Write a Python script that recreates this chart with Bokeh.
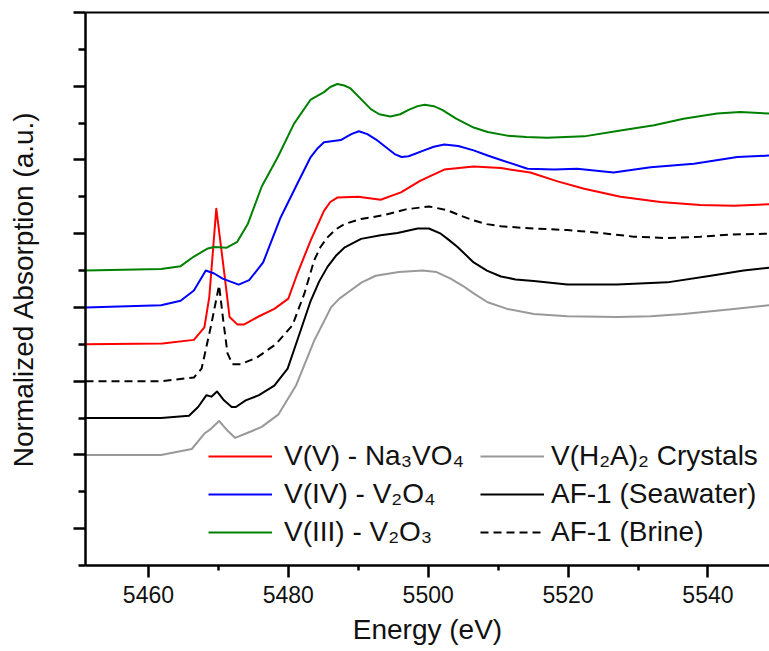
from bokeh.plotting import figure
from bokeh.models import (Range1d, FixedTicker, LinearAxis, Legend, LegendItem,
                          CustomJSTickFormatter)
from bokeh.embed import file_html
from bokeh.resources import INLINE

# ---- data (energy in eV, offset normalized absorption) ----
na3vo4_e = [5451, 5462, 5466.5, 5468, 5468.7, 5469.7, 5470.8, 5471.6, 5472.7, 5473.7, 5475.6,
            5478, 5480, 5481.3, 5483.2, 5485.1, 5486, 5487, 5490, 5493.2, 5496.1, 5498.9, 5502.3,
            5506.5, 5510.4, 5514.6, 5518.5, 5522.3, 5527.5, 5533.2, 5538.9, 5543.7, 5548.8]
na3vo4_y = [3.50, 3.51, 3.56, 3.73, 4.14, 5.34, 4.50, 3.87, 3.77, 3.77, 3.87,
            3.98, 4.12, 4.46, 4.91, 5.31, 5.43, 5.49, 5.50, 5.46, 5.56, 5.72, 5.87,
            5.91, 5.89, 5.83, 5.71, 5.61, 5.50, 5.43, 5.39, 5.38, 5.40]

v2o4_e = [5451, 5461.8, 5464.6, 5466.5, 5468.2, 5469.4, 5470.6, 5472.9, 5474.4, 5476.4, 5478.9,
          5481.3, 5483.2, 5484.2, 5485.1, 5487.5, 5489, 5490.1, 5491.3, 5492.5, 5495.2, 5496.2,
          5497.2, 5499.4, 5500.8, 5502.3, 5504.3, 5506.5, 5508.5, 5510.4, 5514.2, 5518, 5521.3,
          5526.5, 5531.8, 5538, 5544.2, 5548.8]
v2o4_y = [4.00, 4.03, 4.09, 4.23, 4.50, 4.46, 4.39, 4.31, 4.37, 4.61, 5.22,
          5.68, 6.04, 6.16, 6.24, 6.27, 6.35, 6.39, 6.35, 6.28, 6.08, 6.04,
          6.05, 6.13, 6.18, 6.21, 6.19, 6.13, 6.06, 6.00, 5.88, 5.87, 5.88,
          5.83, 5.90, 5.95, 6.04, 6.06]

v2o3_e = [5451, 5461.8, 5464.6, 5466.5, 5468.5, 5469.4, 5471.2, 5472.7, 5474.2, 5476.2, 5478.5,
          5480.8, 5483.2, 5485.1, 5486, 5487, 5488, 5488.9, 5491.8, 5493, 5494.6, 5496, 5497.2,
          5498.5, 5499.5, 5500.8, 5502, 5504, 5506.5, 5508.5, 5511.3, 5514, 5517, 5522.3, 5527.5,
          5532.3, 5536.5, 5541.3, 5544.6, 5548.8]
v2o3_y = [4.50, 4.52, 4.56, 4.69, 4.80, 4.82, 4.81, 4.89, 5.13, 5.64, 6.04,
          6.49, 6.82, 6.92, 6.99, 7.03, 7.01, 6.97, 6.69, 6.62, 6.59, 6.62, 6.68,
          6.73, 6.75, 6.73, 6.68, 6.56, 6.44, 6.38, 6.33, 6.31, 6.30, 6.32, 6.40,
          6.47, 6.56, 6.63, 6.65, 6.63]

brine_e = [5451, 5461.8, 5466.5, 5467.6, 5468.9, 5470.1, 5470.7, 5471.3, 5472, 5473.2, 5475.5,
           5478.2, 5480.6, 5482.3, 5483.7, 5484.6, 5485.6, 5486.8, 5488, 5490.4, 5493.6, 5496.8,
           5500.1, 5502.7, 5504.5, 5506.5, 5508.4, 5510.4, 5515.1, 5519.9, 5524.6, 5529.4,
           5534.2, 5538.9, 5543.6, 5548.8]
brine_y = [3.00, 3.00, 3.05, 3.17, 3.73, 4.30, 3.82, 3.38, 3.23, 3.23, 3.32,
           3.50, 3.76, 4.19, 4.64, 4.82, 4.95, 5.06, 5.13, 5.20, 5.25, 5.33,
           5.37, 5.32, 5.25, 5.18, 5.13, 5.10, 5.07, 5.05, 5.01, 4.96,
           4.94, 4.96, 4.99, 5.00]

seawater_e = [5451, 5461.8, 5465.8, 5467.1, 5468.3, 5469, 5469.8, 5470.8, 5471.9, 5472.5, 5473.9,
              5475.8, 5478, 5479.9, 5480.8, 5483.2, 5484.4, 5485.6, 5486.8, 5488, 5490.4, 5493.2,
              5495.6, 5498.5, 5500.1, 5501.8, 5502.9, 5504.2, 5506.5, 5508.4, 5510.4, 5512.5,
              5515.1, 5519.9, 5527, 5534.2, 5540.4, 5545.1, 5548.8]
seawater_y = [2.50, 2.50, 2.53, 2.65, 2.81, 2.79, 2.86, 2.74, 2.65, 2.65, 2.74,
              2.81, 2.94, 3.17, 3.42, 4.09, 4.35, 4.55, 4.70, 4.81, 4.93, 4.98,
              5.01, 5.07, 5.07, 5.00, 4.92, 4.82, 4.61, 4.50, 4.42, 4.38,
              4.36, 4.31, 4.31, 4.34, 4.43, 4.50, 4.54]

crystal_e = [5451, 5461.8, 5466.2, 5468, 5468.9, 5470.1, 5471.3, 5472.4, 5474.2, 5476.2, 5478.6,
             5481.1, 5483.7, 5486.1, 5487.3, 5488.6, 5490.5, 5492.5, 5495.8, 5499.2, 5501.2,
             5503.2, 5505, 5506.5, 5508.5, 5511.3, 5515.1, 5519.9, 5527, 5531.8, 5536.5,
             5543.7, 5548.8]
crystal_y = [2.00, 2.00, 2.08, 2.29, 2.35, 2.46, 2.33, 2.23, 2.30, 2.38, 2.55,
             2.94, 3.55, 4.00, 4.12, 4.21, 4.34, 4.43, 4.48, 4.50, 4.48,
             4.39, 4.29, 4.19, 4.07, 3.98, 3.91, 3.88, 3.87, 3.88, 3.91,
             3.98, 4.03]

x_major = [5460, 5480, 5500, 5520, 5540]
x_minor = [5450, 5470, 5490, 5510, 5530, 5550]
y_major = [1, 2, 3, 4, 5, 6, 7, 8]
y_minor = [0.5, 1.5, 2.5, 3.5, 4.5, 5.5, 6.5, 7.5]

FONT = "Liberation Sans"
TXT = "#111111"

p = figure(width=769, height=651, output_backend="svg", toolbar_location=None,
           x_range=Range1d(5451, 5548.8), y_range=Range1d(0.5, 8.0),
           min_border_left=85, min_border_right=0, min_border_top=12, min_border_bottom=86)
p.xgrid.visible = False
p.ygrid.visible = False
p.outline_line_color = None
p.background_fill_color = "white"
p.border_fill_color = "white"

kw = dict(line_width=2, line_join="round")
r_na = p.line(na3vo4_e, na3vo4_y, line_color="#FF0000", **kw)
r_v4 = p.line(v2o4_e, v2o4_y, line_color="#0000FF", **kw)
r_v3 = p.line(v2o3_e, v2o3_y, line_color="#008000", **kw)
r_cr = p.line(crystal_e, crystal_y, line_color="#999999", **kw)
r_sw = p.line(seawater_e, seawater_y, line_color="#000000", **kw)
r_br = p.line(brine_e, brine_y, line_color="#000000", line_dash="8 5", **kw)

# axes
xa = p.xaxis[0]
xa.ticker = FixedTicker(ticks=x_major, minor_ticks=x_minor)
xa.axis_line_width = 2.5
xa.major_tick_line_width = 2.5
xa.minor_tick_line_width = 2.5
xa.major_tick_out = 12
xa.major_tick_in = 0
xa.minor_tick_out = 5
xa.minor_tick_in = 0
xa.major_label_text_font = FONT
xa.major_label_text_font_size = "23px"
xa.major_label_text_color = TXT
xa.major_label_standoff = 8
xa.axis_label = "Energy (eV)"
xa.axis_label_text_font = FONT
xa.axis_label_text_font_size = "28px"
xa.axis_label_text_font_style = "normal"
xa.axis_label_text_color = TXT
xa.axis_label_standoff = 8

ya = p.yaxis[0]
ya.ticker = FixedTicker(ticks=y_major, minor_ticks=y_minor)
ya.formatter = CustomJSTickFormatter(code="return ''")
ya.axis_line_width = 2.5
ya.major_tick_line_width = 2.5
ya.minor_tick_line_width = 2.5
ya.major_tick_out = 12
ya.major_tick_in = 0
ya.minor_tick_out = 7
ya.minor_tick_in = 0
ya.major_label_standoff = 0
ya.axis_label = "Normalized Absorption (a.u.)"
ya.axis_label_text_font = FONT
ya.axis_label_text_font_size = "28px"
ya.axis_label_text_font_style = "normal"
ya.axis_label_text_color = TXT
ya.axis_label_standoff = 35

top = LinearAxis(ticker=FixedTicker(ticks=[]), axis_line_width=2,
                 major_tick_out=0, major_tick_in=0, minor_tick_out=0, minor_tick_in=0,
                 major_label_standoff=0)
p.add_layout(top, "above")

def make_legend(items, loc, standoff):
    return Legend(items=items, location=loc, orientation="vertical",
                  label_text_font=FONT, label_text_font_size="28px", label_text_color=TXT,
                  glyph_width=64, glyph_height=30, label_height=30, label_standoff=standoff,
                  spacing=6, padding=0, margin=0, border_line_color=None,
                  background_fill_alpha=0)

leg1 = make_legend([
    LegendItem(label="V(V) - Na\u2083VO\u2084", renderers=[r_na]),
    LegendItem(label="V(IV) - V\u2082O\u2084", renderers=[r_v4]),
    LegendItem(label="V(III) - V\u2082O\u2083", renderers=[r_v3]),
], (123, 17), 12)
leg2 = make_legend([
    LegendItem(label="V(H\u2082A)\u2082 Crystals", renderers=[r_cr]),
    LegendItem(label="AF-1 (Seawater)", renderers=[r_sw]),
    LegendItem(label="AF-1 (Brine)", renderers=[r_br]),
], (395, 17), 7)
p.add_layout(leg1)
p.add_layout(leg2)

open("out.html", "w").write(file_html(p, INLINE))
